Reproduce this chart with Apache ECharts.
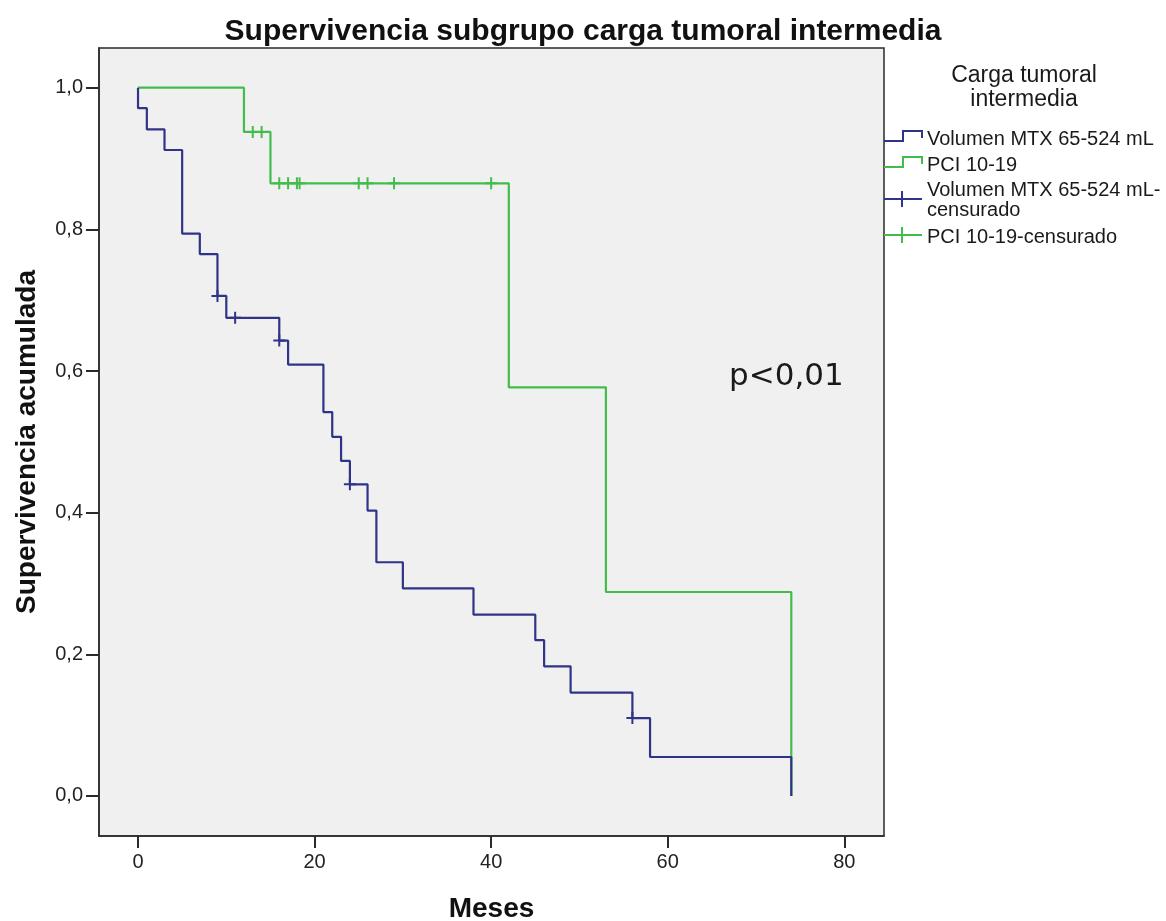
<!DOCTYPE html>
<html>
<head>
<meta charset="utf-8">
<script src="https://cdn.jsdelivr.net/npm/echarts@6/dist/echarts.min.js"></script>
<style>
html,body{margin:0;padding:0;background:#fff;}
#chart{width:1166px;height:921px;}
</style>
</head>
<body>
<div id="chart"></div>
<script>
// ---- Data ----
const chartTitle = 'Supervivencia subgrupo carga tumoral intermedia';
const xName = 'Meses';
const yName = 'Supervivencia acumulada';
const xTicks = [0, 20, 40, 60, 80];
const yTicks = [0, 0.2, 0.4, 0.6, 0.8, 1.0];
const legendTitle = ['Carga tumoral', 'intermedia'];
const seriesNames = ['Volumen MTX 65-524 mL', 'PCI 10-19', 'Volumen MTX 65-524 mL-censurado', 'PCI 10-19-censurado'];

// Volumen MTX 65-524 mL : Kaplan-Meier steps
const mtxTimes = [0, 0, 1, 3, 5, 7, 9, 10, 16, 17, 21, 22, 23, 24, 26, 27, 30, 38, 45, 46, 49, 56, 58, 74];
const mtxSurv  = [1.0, 0.971, 0.941, 0.912, 0.794, 0.765, 0.706, 0.675, 0.643, 0.609, 0.542, 0.507, 0.473, 0.440, 0.403, 0.330, 0.293, 0.256, 0.220, 0.183, 0.146, 0.110, 0.055, 0.0];
const mtxCensTimes = [9, 11, 16, 24, 56];
const mtxCensSurv  = [0.706, 0.675, 0.643, 0.440, 0.110];

// PCI 10-19 : Kaplan-Meier steps
const pciTimes = [0, 12, 15, 42, 53, 74];
const pciSurv  = [1.0, 0.9375, 0.865, 0.577, 0.288, 0.0];
const pciCensTimes = [13, 14, 16, 17, 18, 18.3, 25, 26, 29, 40];
const pciCensSurv  = [0.9375, 0.9375, 0.865, 0.865, 0.865, 0.865, 0.865, 0.865, 0.865, 0.865];

const pText = 'p<0,01';

// ---- Styles ----
const BLUE = '#2f3488';
const GREEN = '#42bd4c';
const FONT = 'Liberation Sans, Arial, sans-serif';
const CROSS = 'path://M5,0h2v5h5v2h-5v5h-2v-5h-5v-2h5z';

const zip = (a, b) => a.map((v, i) => [v, b[i]]);
const fmtY = v => v.toFixed(1).replace('.', ',');

const chart = echarts.init(document.getElementById('chart'), null, {renderer: 'canvas'});

function stepIcon(y, color) {
  return {
    type: 'polyline', silent: true,
    shape: {points: [[884, y + 5], [903, y + 5], [903, y - 5], [922, y - 5], [922, y + 2]]},
    style: {stroke: color, lineWidth: 2, fill: null}
  };
}
function crossIcon(y, color) {
  return [
    {type: 'line', silent: true, shape: {x1: 884, y1: y, x2: 922, y2: y}, style: {stroke: color, lineWidth: 2}},
    {type: 'line', silent: true, shape: {x1: 902, y1: y - 8, x2: 902, y2: y + 8}, style: {stroke: color, lineWidth: 2}}
  ];
}
function txt(x, y, text, size, align, weight, family) {
  return {
    type: 'text', silent: true, x: x, y: y,
    style: {text: text, fill: '#1a1a1a', font: (weight || 'normal') + ' ' + size + 'px ' + (family || FONT),
            textAlign: align || 'left', textVerticalAlign: 'middle'}
  };
}

const graphics = [
  txt(1024, 76, legendTitle[0], 23, 'center'),
  txt(1024, 100, legendTitle[1], 23, 'center'),
  stepIcon(136, BLUE),
  txt(927, 139, seriesNames[0], 20),
  stepIcon(162, GREEN),
  txt(927, 165, seriesNames[1], 20),
  ...crossIcon(199, BLUE),
  txt(927, 190.5, 'Volumen MTX 65-524 mL-', 20),
  txt(927, 210.5, 'censurado', 20),
  ...crossIcon(235, GREEN),
  txt(927, 237.5, seriesNames[3], 20),
  txt(729, 377, pText, 31, 'left', 'normal', 'DejaVu Sans')
];

const option = {
  animation: false,
  backgroundColor: '#ffffff',
  title: {
    text: chartTitle, left: 'center', top: 12,
    textStyle: {fontFamily: FONT, fontSize: 30, fontWeight: 'bold', color: '#111'}
  },
  grid: {
    left: 99, top: 48, width: 785, height: 788, containLabel: false, outerBoundsMode: 'none',
    show: true, backgroundColor: '#f0f0f0', borderColor: '#2a2a2a', borderWidth: 1.5
  },
  xAxis: {
    type: 'value', min: -4.42, max: 84.5,
    name: xName, nameLocation: 'middle', nameGap: 59,
    nameTextStyle: {fontFamily: FONT, fontSize: 28, fontWeight: 'bold', color: '#111'},
    axisLine: {show: true, onZero: false, lineStyle: {color: '#2a2a2a', width: 1.5}},
    axisTick: {show: true, length: 12, customValues: xTicks, lineStyle: {color: '#2a2a2a', width: 2}},
    axisLabel: {customValues: xTicks, fontFamily: FONT, fontSize: 20, color: '#222', margin: 16},
    splitLine: {show: false}
  },
  yAxis: {
    type: 'value', min: -0.0565, max: 1.056,
    name: yName, nameLocation: 'middle', nameGap: 58,
    nameTextStyle: {fontFamily: FONT, fontSize: 28, fontWeight: 'bold', color: '#111'},
    axisLine: {show: true, onZero: false, lineStyle: {color: '#2a2a2a', width: 1.5}},
    axisTick: {show: true, length: 13, customValues: yTicks, lineStyle: {color: '#2a2a2a', width: 2}},
    axisLabel: {customValues: yTicks, fontFamily: FONT, fontSize: 20, color: '#222', margin: 16, formatter: fmtY},
    splitLine: {show: false}
  },
  series: [
    {name: seriesNames[0], type: 'line', step: 'end', symbol: 'none', data: zip(mtxTimes, mtxSurv),
     lineStyle: {color: BLUE, width: 2.2}, itemStyle: {color: BLUE}, z: 3},
    {name: seriesNames[1], type: 'line', step: 'end', symbol: 'none', data: zip(pciTimes, pciSurv),
     lineStyle: {color: GREEN, width: 2.2}, itemStyle: {color: GREEN}, z: 2},
    {name: seriesNames[2], type: 'scatter', symbol: CROSS, symbolSize: 12, data: zip(mtxCensTimes, mtxCensSurv),
     itemStyle: {color: BLUE, opacity: 1}, z: 4},
    {name: seriesNames[3], type: 'scatter', symbol: CROSS, symbolSize: 12, data: zip(pciCensTimes, pciCensSurv),
     itemStyle: {color: GREEN, opacity: 1}, z: 4}
  ],
  graphic: graphics
};
chart.setOption(option);
</script>
</body>
</html>
